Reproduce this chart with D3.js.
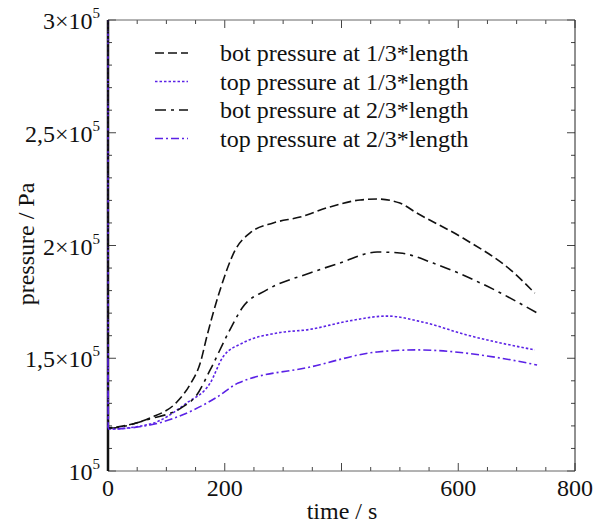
<!DOCTYPE html>
<html>
<head>
<meta charset="utf-8">
<script src="https://cdn.jsdelivr.net/npm/d3@7"></script>
<style>
  body { margin: 0; background: #fff; }
  svg text { font-family: "Liberation Serif", "Times New Roman", serif; fill: #111; }
</style>
</head>
<body>
<svg id="chart" width="603" height="523"></svg>
<script>
// values (time in s, pressure in Pa)
const botThird = [
  [0, 3.0e5], [0.5, 1.191e5], [15, 1.195e5], [72, 1.235e5], [118, 1.306e5], [140, 1.381e5],
  [158, 1.479e5], [170, 1.603e5], [192, 1.803e5], [218, 1.980e5], [243, 2.055e5],
  [283, 2.100e5], [329, 2.126e5], [380, 2.171e5], [432, 2.202e5], [461, 2.206e5],
  [500, 2.188e5], [529, 2.144e5], [608, 2.033e5], [694, 1.882e5], [731, 1.789e5]
];
const topThird = [
  [0, 3.0e5], [0.5, 1.186e5], [72, 1.208e5], [135, 1.302e5], [175, 1.390e5], [197, 1.506e5],
  [231, 1.568e5], [290, 1.612e5], [346, 1.628e5], [410, 1.664e5], [478, 1.687e5],
  [540, 1.660e5], [615, 1.603e5], [731, 1.537e5]
];
const botTwoThirds = [
  [0, 3.0e5], [0.5, 1.190e5], [72, 1.231e5], [128, 1.284e5], [152, 1.337e5], [175, 1.448e5],
  [206, 1.612e5], [231, 1.727e5], [272, 1.803e5], [346, 1.878e5], [397, 1.922e5],
  [461, 1.971e5], [500, 1.967e5], [557, 1.922e5], [649, 1.820e5], [735, 1.701e5]
];
const topTwoThirds = [
  [0, 1.5e5], [0.5, 1.186e5], [72, 1.204e5], [146, 1.270e5], [187, 1.328e5], [223, 1.390e5],
  [346, 1.461e5], [461, 1.528e5], [529, 1.537e5], [672, 1.501e5], [735, 1.470e5]
];

const seriesNames = [
  "bot pressure at 1/3*length",
  "top pressure at 1/3*length",
  "bot pressure at 2/3*length",
  "top pressure at 2/3*length"
];
const xTickLabels = [0, 200, 600, 800];
const yTickLabels = [
  [1.0e5, "", "10"], [1.5e5, "1,5×", "10"], [2.0e5, "2×", "10"],
  [2.5e5, "2,5×", "10"], [3.0e5, "3×", "10"]
];

const purple = "#5b22e6";
const series = [
  { data: botThird, color: "#111", dash: "9,4", width: 1.6 },
  { data: topThird, color: purple, dash: "2.5,2", width: 1.6 },
  { data: botTwoThirds, color: "#111", dash: "11,5,3,5", width: 1.6 },
  { data: topTwoThirds, color: purple, dash: "8,3,2,3", width: 1.6 }
];

const svg = d3.select("#chart");
const plotLeft = 108, plotRight = 575, plotTop = 20, plotBottom = 471;
const fontSize = 24;

const x = d3.scaleLinear().domain([0, 800]).range([plotLeft, plotRight]);
const y = d3.scaleLinear().domain([1e5, 3e5]).range([plotBottom, plotTop]);

// ticks (inward on all four sides)
const xMinor = d3.range(0, 801, 50);
const yMinor = d3.range(1e5, 3e5 + 1, 1e4);

const ticks = svg.append("g").attr("stroke", "#444").attr("stroke-width", 1);
xMinor.forEach(v => {
  const len = v % 200 === 0 ? 8 : 4;
  ticks.append("line").attr("x1", x(v)).attr("x2", x(v)).attr("y1", plotBottom).attr("y2", plotBottom - len);
  ticks.append("line").attr("x1", x(v)).attr("x2", x(v)).attr("y1", plotTop).attr("y2", plotTop + len);
});
yMinor.forEach(v => {
  const len = Math.round(v) % 50000 === 0 ? 8 : 4;
  ticks.append("line").attr("x1", plotRight).attr("x2", plotRight - len).attr("y1", y(v)).attr("y2", y(v));
  ticks.append("line").attr("x1", plotLeft).attr("x2", plotLeft + len).attr("y1", y(v)).attr("y2", y(v));
});

// frame
svg.append("line").attr("x1", plotLeft).attr("x2", plotRight).attr("y1", plotTop).attr("y2", plotTop)
  .attr("stroke", "#666").attr("stroke-width", 1);
svg.append("line").attr("x1", plotLeft).attr("x2", plotRight).attr("y1", plotBottom).attr("y2", plotBottom)
  .attr("stroke", "#666").attr("stroke-width", 1);
svg.append("line").attr("x1", plotRight).attr("x2", plotRight).attr("y1", plotTop).attr("y2", plotBottom)
  .attr("stroke", "#222").attr("stroke-width", 1);
svg.append("line").attr("x1", plotLeft).attr("x2", plotLeft).attr("y1", plotTop).attr("y2", plotBottom)
  .attr("stroke", "#111").attr("stroke-width", 2.5);

// curves
const line = d3.line()
  .x(d => x(d[0]))
  .y(d => y(d[1]))
  .curve(d3.curveMonotoneX);

series.forEach(s => {
  svg.append("path")
    .attr("d", line(s.data))
    .attr("fill", "none")
    .attr("stroke", s.color)
    .attr("stroke-width", s.width)
    .attr("stroke-dasharray", s.dash);
});

// x tick labels
svg.append("g").selectAll("text").data(xTickLabels).join("text")
  .attr("x", d => x(d))
  .attr("y", 496)
  .attr("text-anchor", "middle")
  .attr("font-size", fontSize)
  .text(d => d);

// y tick labels with superscript exponent
yTickLabels.forEach(([v, mant, base]) => {
  const t = svg.append("text")
    .attr("x", 100)
    .attr("y", y(v) + 9)
    .attr("text-anchor", "end")
    .attr("font-size", fontSize);
  t.append("tspan").text(mant + base);
  t.append("tspan").attr("font-size", 15).attr("dy", -11).text("5");
});

// axis titles
svg.append("text")
  .attr("x", 342).attr("y", 519)
  .attr("text-anchor", "middle")
  .attr("font-size", fontSize)
  .text("time / s");
svg.append("text")
  .attr("transform", `translate(34,244) rotate(-90)`)
  .attr("text-anchor", "middle")
  .attr("font-size", fontSize)
  .text("pressure / Pa");

// legend
const legend = svg.append("g");
series.forEach((s, i) => {
  const ly = 53 + i * 28.5;
  legend.append("line")
    .attr("x1", 155).attr("x2", 188).attr("y1", ly).attr("y2", ly)
    .attr("stroke", s.color).attr("stroke-width", s.width)
    .attr("stroke-dasharray", s.dash);
  legend.append("text")
    .attr("x", 220).attr("y", ly + 8)
    .attr("font-size", fontSize)
    .text(seriesNames[i]);
});
</script>
</body>
</html>
